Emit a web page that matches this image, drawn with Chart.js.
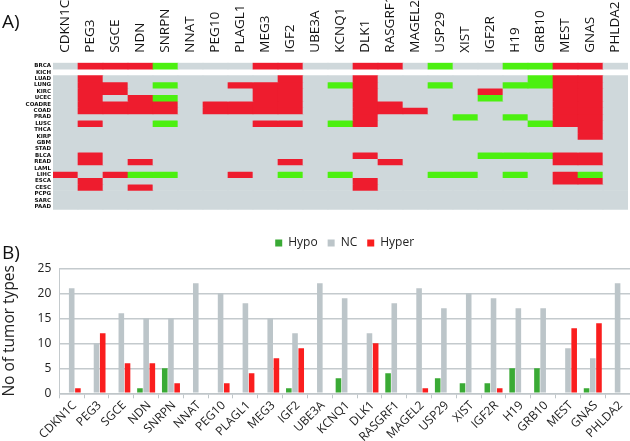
<!DOCTYPE html>
<html>
<head>
<meta charset="utf-8">
<script src="https://cdn.jsdelivr.net/npm/chart.js@4.4.0/dist/chart.umd.min.js"></script>
<style>
  body { margin: 0; background: #fff; width: 630px; height: 441px; overflow: hidden; position: relative; font-family: "Open Sans", sans-serif; }
  canvas { position: absolute; left: 0; }
  #heat { top: 0; }
  #bars { top: 215px; }
  .panel { position: absolute; left: 2px; font-size: 19px; color: #111; z-index: 2; }
</style>
</head>
<body>
<canvas id="heat" width="630" height="215"></canvas>
<canvas id="bars" width="630" height="226"></canvas>
<div class="panel" style="top:8px">A)</div>
<div class="panel" style="top:239px">B)</div>
<script>
var genes = ['CDKN1C', 'PEG3', 'SGCE', 'NDN', 'SNRPN', 'NNAT', 'PEG10', 'PLAGL1', 'MEG3', 'IGF2', 'UBE3A',
  'KCNQ1', 'DLK1', 'RASGRF1', 'MAGEL2', 'USP29', 'XIST', 'IGF2R', 'H19', 'GRB10', 'MEST', 'GNAS', 'PHLDA2'];
var tumors = ['BRCA', 'KICH', 'LUAD', 'LUNG', 'KIRC', 'UCEC', 'COADRE', 'COAD', 'PRAD', 'LUSC', 'THCA', 'KIRP',
  'GBM', 'STAD', 'BLCA', 'READ', 'LAML', 'LIHC', 'ESCA', 'CESC', 'PCPG', 'SARC', 'PAAD'];

// one char per gene: R = hyper, G = hypo, . = no change, x = no data
var calls = [
  '.RRRG...RR..RR.G..GGRR.',
  'xxxxxxxxxxxxxxxxxxxxxxx',
  '.R.......R..R......GRR.',
  '.RR.G..RRR.GR..G..GGRR.',
  '.RR.....RR..R....R..RR.',
  '.R.RG...RR..R....G..RR.',
  '.RRRR.RRRR..RR......RR.',
  '.RRRR.RRRR..RRR.....RR.',
  '............R...G.G.RR.',
  '.R..G...RR.GR......GRR.',
  '.....................R.',
  '.....................R.',
  '.......................',
  '.......................',
  '.R..........R....GGGRR.',
  '.R.R.....R...R......RR.',
  '.......................',
  'R.RGG..R.G.G...GG.G.RG.',
  '.R..........R.......RR.',
  '.R.R........R..........',
  '.......................',
  '.......................',
  '.......................'
];

// number of tumor types per gene
var hypo  = [0, 0, 0, 1, 5, 0, 0, 0, 0, 1, 0, 3, 0, 4, 0, 3, 2, 2, 5, 5, 0, 1, 0];
var nc    = [21, 10, 16, 15, 15, 22, 20, 18, 15, 12, 22, 19, 12, 18, 21, 17, 20, 19, 17, 17, 9, 7, 22];
var hyper = [1, 12, 6, 6, 2, 0, 2, 4, 7, 9, 0, 0, 10, 0, 1, 0, 0, 1, 0, 0, 13, 14, 0];
var yTicks = [0, 5, 10, 15, 20, 25];

var cellColor = { R: '#ee1c2e', G: '#4cf010', '.': '#cfd8db', x: 'rgba(0,0,0,0)' };

new Chart(document.getElementById('heat'), {
  type: 'bar',
  data: {
    labels: genes,
    datasets: tumors.map(function (t, r) {
      return {
        label: t,
        data: genes.map(function () { return [r, r + 1]; }),
        backgroundColor: genes.map(function (g, c) { return cellColor[calls[r][c]]; }),
        borderWidth: 0,
        grouped: false,
        categoryPercentage: 1,
        barPercentage: 1
      };
    })
  },
  options: {
    responsive: false,
    animation: false,
    layout: { padding: { right: 2, bottom: 5 } },
    plugins: { legend: { display: false }, tooltip: { enabled: false } },
    scales: {
      x: {
        position: 'top',
        grid: { display: false, drawTicks: false },
        border: { display: false },
        ticks: { minRotation: 90, maxRotation: 90, autoSkip: false, padding: 10, labelOffset: 16.2,
          color: '#111', font: { family: 'Open Sans', size: 13.5 } },
        afterFit: function (a) { a.height = 62.7; }
      },
      y: {
        min: 0, max: 23, reverse: true,
        grid: { display: false, drawTicks: false },
        border: { display: false },
        afterBuildTicks: function (a) { a.ticks = tumors.map(function (t, i) { return { value: i + 0.5 }; }); },
        ticks: { autoSkip: false, padding: 2, color: '#111',
          font: { family: 'DejaVu Sans', size: 5.5, weight: 'bold' },
          callback: function (v, i) { return tumors[i]; } },
        afterFit: function (a) { a.width = 53; }
      }
    }
  }
});

new Chart(document.getElementById('bars'), {
  type: 'bar',
  data: {
    labels: genes,
    datasets: [
      { label: 'Hypo', data: hypo, backgroundColor: '#3aaa35' },
      { label: 'NC', data: nc, backgroundColor: '#bcc5c9' },
      { label: 'Hyper', data: hyper, backgroundColor: '#fa1e1e' }
    ]
  },
  options: {
    responsive: false,
    animation: false,
    datasets: { bar: { categoryPercentage: 0.75, barPercentage: 0.9 } },
    layout: { padding: { top: 12 } },
    plugins: {
      legend: {
        position: 'top', fullSize: false,
        labels: { boxWidth: 7, boxHeight: 7, padding: 10, color: '#222', font: { family: 'Open Sans', size: 12 } }
      },
      tooltip: { enabled: false }
    },
    scales: {
      x: {
        grid: { display: true, drawOnChartArea: false, tickLength: 5, color: '#bfc6c9' },
        border: { color: '#bfc6c9', width: 1.5 },
        ticks: { minRotation: 45, maxRotation: 45, autoSkip: false, padding: 0, labelOffset: 3, color: '#222',
          font: { family: 'Open Sans', size: 12 } },
        afterFit: function (a) { a.height = 47.7; }
      },
      // empty spacer between legend and plot
      gap: {
        type: 'category', position: 'top', axis: 'x',
        grid: { display: false, drawTicks: false },
        border: { display: false },
        ticks: { display: false },
        afterFit: function (a) { a.height = 9.3; }
      },
      y: {
        min: 0, max: 25,
        afterBuildTicks: function (a) { a.ticks = yTicks.map(function (v) { return { value: v }; }); },
        grid: { color: '#c4cacd', lineWidth: 1.5, drawTicks: false },
        border: { display: true, color: '#c4cacd', width: 1 },
        ticks: { padding: 8, color: '#222', font: { family: 'Open Sans', size: 12 } },
        title: { display: true, text: 'No of tumor types', color: '#222', padding: 0,
          font: { family: 'Open Sans', size: 15.5 } },
        afterFit: function (a) { a.width = 59.3; }
      }
    }
  }
});
</script>
</body>
</html>
